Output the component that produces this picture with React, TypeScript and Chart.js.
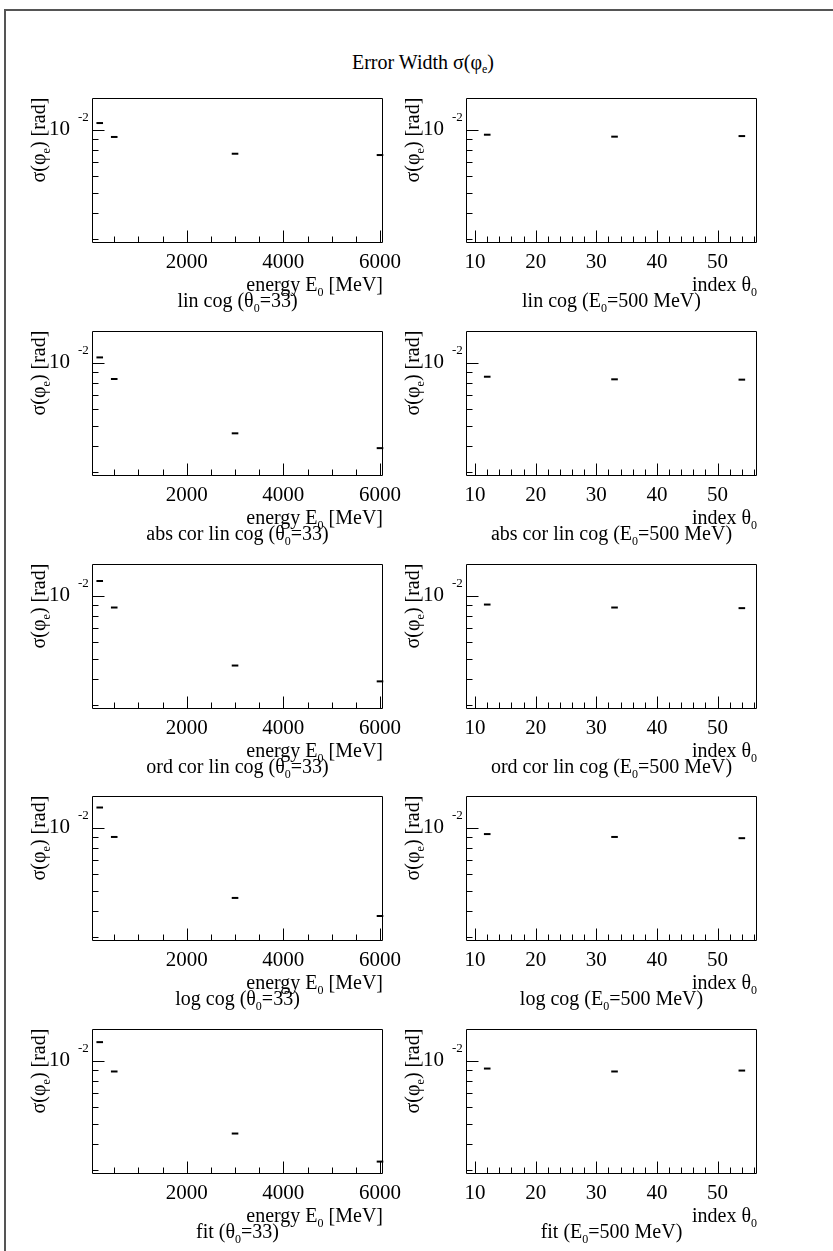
import React, { useEffect, useRef } from 'react';
import { Chart, registerables } from 'chart.js';
Chart.register(...registerables);

// ---------- data ----------
const energies = [200, 500, 3000, 6000];
const thetas = [12, 33, 54];

const linCogE = [0.01074, 0.00922, 0.00767, 0.00756];
const linCogT = [0.00945, 0.00925, 0.00931];
const absCorE = [0.01058, 0.00835, 0.0046, 0.00391];
const absCorT = [0.00856, 0.00832, 0.00829];
const ordCorE = [0.01173, 0.00877, 0.00464, 0.0039];
const ordCorT = [0.00906, 0.00877, 0.00871];
const logCogE = [0.01246, 0.00902, 0.00462, 0.00379];
const logCogT = [0.00931, 0.00902, 0.0089];
const fitE = [0.01224, 0.00887, 0.00449, 0.0033];
const fitT = [0.00916, 0.00887, 0.00896];

const methodNames = ['lin cog', 'abs cor lin cog', 'ord cor lin cog', 'log cog', 'fit'];
const energySeries = [linCogE, absCorE, ordCorE, logCogE, fitE];
const thetaSeries = [linCogT, absCorT, ordCorT, logCogT, fitT];

const yTickValues = [0.003, 0.004, 0.005, 0.006, 0.007, 0.008, 0.009, 0.01];
const yLabelledTicks = [0.01];
const energyTickValues = [500, 1000, 1500, 2000, 2500, 3000, 3500, 4000, 4500, 5000, 5500, 6000];
const energyLabelledTicks = [2000, 4000, 6000];
const thetaTickValues = [10, 12, 14, 16, 18, 20, 22, 24, 26, 28, 30, 32, 34, 36, 38, 40, 42, 44, 46, 48, 50, 52, 54, 56];
const thetaLabelledTicks = [10, 20, 30, 40, 50];

const yRange = [0.00288, 0.0142];
const energyRange = [40, 6062];
const thetaRange = [8.5, 56.5];

// ---------- layout ----------
const FONT = "'Liberation Serif', 'Times New Roman', serif";
const CW = 413;
const CH = 260;
const PAD_L = 72;
const PAD_T = 30;
const PAD_R = 50;
const X_AXIS_H = 80;

type Seg = { t: string; sub?: boolean };

function drawRich(ctx: CanvasRenderingContext2D, segs: Seg[], x: number, y: number, align: 'left' | 'right' | 'center', size: number) {
  const f = (s: number) => `${s}px ${FONT}`;
  const widths = segs.map((s) => {
    ctx.font = f(s.sub ? size * 0.6 : size);
    return ctx.measureText(s.t).width;
  });
  const total = widths.reduce((a, b) => a + b, 0);
  let cx = align === 'left' ? x : align === 'right' ? x - total : x - total / 2;
  ctx.textAlign = 'left';
  ctx.textBaseline = 'alphabetic';
  segs.forEach((s, i) => {
    ctx.font = f(s.sub ? size * 0.6 : size);
    ctx.fillText(s.t, cx, s.sub ? y + size * 0.25 : y);
    cx += widths[i];
  });
}

interface PanelProps {
  left: number;
  top: number;
  xs: number[];
  ys: number[];
  xRange: number[];
  xTicks: number[];
  xLabelled: number[];
  xTitle: Seg[];
  subtitle: Seg[];
}

function Panel(p: PanelProps) {
  const ref = useRef<HTMLCanvasElement>(null);
  useEffect(() => {
    const decor = {
      id: 'rootDecor',
      afterDraw(chart: any) {
        const { ctx, chartArea: a, scales } = chart;
        const xs = scales.x;
        const ys = scales.y;
        const L = Math.round(a.left) + 0.5;
        const R = Math.round(a.right) - 0.5;
        const T = Math.round(a.top) + 0.5;
        const B = Math.round(a.bottom) - 0.5;
        ctx.save();
        ctx.strokeStyle = '#000';
        ctx.fillStyle = '#000';
        ctx.lineWidth = 1;
        ctx.beginPath();
        ctx.rect(L, T, R - L, B - T);
        ctx.stroke();
        // inward ticks
        ctx.beginPath();
        xs.ticks.forEach((t: any) => {
          const px = Math.round(xs.getPixelForValue(t.value)) + 0.5;
          const len = p.xLabelled.includes(t.value) ? 12 : 6;
          ctx.moveTo(px, B);
          ctx.lineTo(px, B - len);
        });
        ys.ticks.forEach((t: any) => {
          const py = Math.round(ys.getPixelForValue(t.value)) + 0.5;
          const len = yLabelledTicks.includes(t.value) ? 12 : 6;
          ctx.moveTo(L, py);
          ctx.lineTo(L + len, py);
        });
        ctx.stroke();
        // exponent of 10^-2
        const p10 = ys.getPixelForValue(0.01);
        ctx.font = `13px ${FONT}`;
        ctx.textAlign = 'left';
        ctx.textBaseline = 'alphabetic';
        ctx.fillText('-2', a.left - 14, p10 - 8.5);
        // y title
        ctx.save();
        ctx.translate(a.left - 47, a.top);
        ctx.rotate(-Math.PI / 2);
        drawRich(ctx, [{ t: 'σ(φ' }, { t: 'e', sub: true }, { t: ') [rad]' }], 0, 0, 'right', 20);
        ctx.restore();
        // x title
        drawRich(ctx, p.xTitle, a.right, a.bottom + 48, 'right', 20);
        // subtitle
        drawRich(ctx, p.subtitle, (a.left + a.right) / 2, a.bottom + 64, 'center', 20);
        ctx.restore();
      },
    };
    const chart = new Chart(ref.current as HTMLCanvasElement, {
      type: 'scatter',
      data: {
        datasets: [
          {
            data: p.xs.map((x, i) => ({ x, y: p.ys[i] })),
            showLine: false,
            pointStyle: 'line',
            pointRadius: 3.3,
            pointHoverRadius: 3.3,
            pointBorderWidth: 2,
            borderColor: '#000',
            backgroundColor: '#000',
            clip: false,
          } as any,
        ],
      },
      options: {
        animation: false,
        responsive: false,
        events: [],
        layout: { padding: { left: 0, right: PAD_R, top: PAD_T, bottom: 0 } },
        plugins: { legend: { display: false }, tooltip: { enabled: false } },
        scales: {
          x: {
            type: 'linear',
            min: p.xRange[0],
            max: p.xRange[1],
            grid: { display: false, drawTicks: false },
            border: { display: false },
            afterBuildTicks: (s: any) => {
              s.ticks = p.xTicks.map((v) => ({ value: v }));
            },
            afterFit: (s: any) => {
              s.height = X_AXIS_H;
            },
            ticks: {
              autoSkip: false,
              maxRotation: 0,
              minRotation: 0,
              padding: 7,
              color: '#000',
              font: { family: FONT, size: 21 },
              callback: (v: any) => (p.xLabelled.includes(Number(v)) ? String(v) : ''),
            },
          },
          y: {
            type: 'logarithmic',
            min: yRange[0],
            max: yRange[1],
            grid: { display: false, drawTicks: false },
            border: { display: false },
            afterBuildTicks: (s: any) => {
              s.ticks = yTickValues.map((v) => ({ value: v }));
            },
            afterFit: (s: any) => {
              s.width = PAD_L;
            },
            ticks: {
              autoSkip: false,
              padding: 22,
              color: '#000',
              font: { family: FONT, size: 21 },
              callback: (v: any) => (yLabelledTicks.includes(Number(v)) ? '10' : ''),
            },
          },
        },
      },
      plugins: [decor],
    } as any);
    return () => chart.destroy();
  }, []);
  return (
    <canvas
      ref={ref}
      width={CW}
      height={CH}
      style={{ position: 'absolute', left: p.left, top: p.top, width: CW, height: CH }}
    />
  );
}

export default function App() {
  const panels: React.ReactNode[] = [];
  methodNames.forEach((name, r) => {
    const plotTop = Math.round(93 + 232.75 * r);
    panels.push(
      <Panel
        key={`e${r}`}
        left={92 - PAD_L}
        top={plotTop - PAD_T}
        xs={energies}
        ys={energySeries[r]}
        xRange={energyRange}
        xTicks={energyTickValues}
        xLabelled={energyLabelledTicks}
        xTitle={[{ t: 'energy E' }, { t: '0', sub: true }, { t: ' [MeV]' }]}
        subtitle={[{ t: `${name} (θ` }, { t: '0', sub: true }, { t: '=33)' }]}
      />
    );
    panels.push(
      <Panel
        key={`t${r}`}
        left={466 - PAD_L}
        top={plotTop - PAD_T}
        xs={thetas}
        ys={thetaSeries[r]}
        xRange={thetaRange}
        xTicks={thetaTickValues}
        xLabelled={thetaLabelledTicks}
        xTitle={[{ t: 'index θ' }, { t: '0', sub: true }]}
        subtitle={[{ t: `${name} (E` }, { t: '0', sub: true }, { t: '=500 MeV)' }]}
      />
    );
  });
  return (
    <div style={{ position: 'absolute', left: 0, top: 0, width: 833, height: 1251, overflow: 'hidden', background: '#fff' }}>
      <div style={{ position: 'absolute', left: 4, top: 9, width: 829, height: 2, background: '#555' }} />
      <div style={{ position: 'absolute', left: 4, top: 9, width: 2, height: 1242, background: '#555' }} />
      <div
        style={{
          position: 'absolute',
          left: 0,
          top: 52,
          width: 846,
          textAlign: 'center',
          fontFamily: FONT,
          fontSize: 20,
          lineHeight: '20px',
          color: '#000',
          whiteSpace: 'nowrap',
        }}
      >
        Error Width σ(φ<span style={{ fontSize: '0.6em', position: 'relative', top: '0.3em' }}>e</span>)
      </div>
      {panels}
    </div>
  );
}
